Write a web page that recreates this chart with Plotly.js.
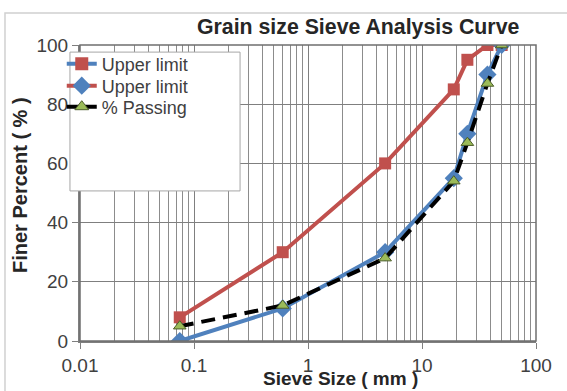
<!DOCTYPE html>
<html>
<head>
<meta charset="utf-8">
<script src="https://cdn.plot.ly/plotly-3.0.1.min.js"></script>
<style>html,body{margin:0;padding:0;background:#fff;}#chart{width:567px;height:391px;}</style>
</head>
<body>
<div id="chart"></div>
<script>
// Sieve sizes (mm)
const sieveSizes = [0.075, 0.6, 4.75, 19, 25, 37.5, 50];
// Series values (% finer)
const upperLimitA = [8, 30, 60, 85, 95, 100, 100];   // red squares
const upperLimitB = [0, 11, 30, 55, 70, 90, 100];    // blue diamonds
const passing = [5, 12, 28, 54, 67, 87, 100];        // % Passing
const seriesNames = ['Upper limit', 'Upper limit', '% Passing'];
const xTickVals = [0.01, 0.1, 1, 10, 100];
const xTickText = ['0.01', '0.1', '1', '10', '100'];

const RED = '#C0504D', BLUE = '#4F81BD', GREEN = '#9BBB59';

const minorVals = [];
[0.01, 0.1, 1, 10].forEach(d => { for (let k = 2; k <= 9; k++) minorVals.push(+(d * k).toPrecision(3)); });

const traces = [
  {x: sieveSizes, y: upperLimitA, type: 'scatter', mode: 'lines+markers', showlegend: false,
   line: {color: RED, width: 4}, marker: {symbol: 'square', size: 12, color: RED}},
  {x: sieveSizes, y: upperLimitB, type: 'scatter', mode: 'lines+markers', showlegend: false,
   line: {color: BLUE, width: 4}, marker: {symbol: 'diamond', size: 14, color: BLUE}},
  {x: sieveSizes, y: passing, type: 'scatter', mode: 'lines+markers', showlegend: false,
   line: {color: '#000', width: 4, dash: '14px,8px'},
   marker: {symbol: 'triangle-up', size: 11, color: GREEN, line: {color: '#4d5e2a', width: 1}}},
  // legend entries (Excel-style swapped line colours)
  {x: [null], y: [null], type: 'scatter', mode: 'lines+markers', name: seriesNames[0], legend: 'legend',
   line: {color: BLUE, width: 4}, marker: {symbol: 'square', size: 13, color: RED}},
  {x: [null], y: [null], type: 'scatter', mode: 'lines+markers', name: seriesNames[1], legend: 'legend2',
   line: {color: RED, width: 4}, marker: {symbol: 'diamond', size: 14, color: BLUE}},
  {x: [null], y: [null], type: 'scatter', mode: 'lines+markers', name: seriesNames[2], legend: 'legend3',
   line: {color: '#000', width: 4}, marker: {symbol: 'triangle-up', size: 12, color: GREEN, line: {color: '#4d5e2a', width: 1}}}
];

const legendBase = (py) => ({x: -0.04, xanchor: 'left', y: (341 - py) / 296, yanchor: 'middle',
  bgcolor: 'rgba(0,0,0,0)', borderwidth: 0, font: {size: 18, color: '#404040'}});

const layout = {
  width: 567, height: 391,
  margin: {l: 80, r: 31, t: 45, b: 50, pad: 0},
  paper_bgcolor: '#fff', plot_bgcolor: '#fff',
  font: {family: 'Liberation Sans, Arial, sans-serif', color: '#404040'},
  title: {text: 'Grain size Sieve Analysis Curve', font: {size: 21.3, color: '#262626', weight: 'bold'},
          xref: 'paper', x: 0.61, xanchor: 'center', yref: 'container', y: 1 - 27/391, yanchor: 'middle'},
  xaxis: {type: 'log', range: [-2, 2], tickvals: xTickVals, ticktext: xTickText,
          showgrid: true, gridcolor: '#7f7f7f', gridwidth: 1,
          minor: {tickvals: minorVals, showgrid: true, gridcolor: '#8c8c8c', gridwidth: 1, ticks: ''},
          ticks: 'outside', ticklen: 6, tickcolor: '#7f7f7f',
          showline: true, linecolor: '#7f7f7f', linewidth: 2, mirror: false,
          tickfont: {size: 19, color: '#404040'}, zeroline: false},
  yaxis: {range: [0, 100], dtick: 20, showgrid: true, gridcolor: '#7f7f7f', gridwidth: 1,
          ticks: 'outside', ticklen: 6, tickcolor: '#7f7f7f',
          showline: true, linecolor: '#7f7f7f', linewidth: 2,
          tickfont: {size: 19, color: '#404040'}, zeroline: false},
  showlegend: true,
  legend: legendBase(64),
  legend2: legendBase(86),
  legend3: legendBase(107),
  shapes: [
    // plot frame top/right
    {type: 'rect', xref: 'paper', yref: 'paper', x0: 0, x1: 1, y0: 0, y1: 1, line: {color: '#6f6f6f', width: 1.5}, layer: 'above'},
    // legend box
    {type: 'rect', xref: 'paper', yref: 'paper', x0: -0.022, x1: 0.351, y0: 0.507, y1: 0.976,
     fillcolor: '#fff', line: {color: '#a6a6a6', width: 1}, layer: 'above'},
    // chart area border
    {type: 'rect', xref: 'paper', yref: 'paper', x0: -0.1645, x1: 1.08, y0: -0.2, y1: 1.108,
     line: {color: '#d0d0d0', width: 1.5}, layer: 'below'}
  ],
  annotations: [
    {text: 'Finer Percent ( % )', xref: 'paper', yref: 'paper', x: (20 - 80) / 456, y: (341 - 185) / 296,
     textangle: -90, showarrow: false, xanchor: 'center', yanchor: 'middle',
     font: {size: 20, color: '#262626', weight: 'bold'}},
    {text: 'Sieve Size ( mm )', xref: 'paper', yref: 'paper', x: (340 - 80) / 456, y: (341 - 391) / 296,
     showarrow: false, xanchor: 'center', yanchor: 'bottom',
     font: {size: 19, color: '#262626', weight: 'bold'}}
  ]
};

Plotly.newPlot('chart', traces, layout, {displayModeBar: false, staticPlot: true});
</script>
</body>
</html>
